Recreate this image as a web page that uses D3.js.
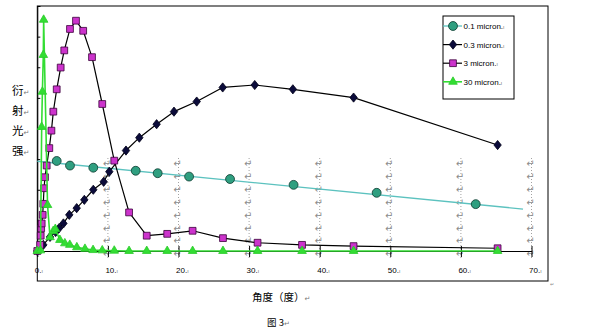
<!DOCTYPE html>
<html>
<head>
<meta charset="utf-8">
<script src="https://cdn.jsdelivr.net/npm/d3@7"></script>
<style>
  body { margin: 0; background: #fff; }
  svg { display: block; font-family: "Liberation Sans", Arial, sans-serif; }
</style>
</head>
<body>
<svg id="chart" width="590" height="329"></svg>
<script>
// values (angle in degrees, intensity in axis units)
const xTicks = [0, 10, 20, 30, 40, 50, 60, 70];
const yTicks = [0, 1, 2, 3, 4, 5, 6, 7, 8];
const gridCols = [10, 20, 30, 40, 50, 60, 70];

const series01 = [[2.75, 2.94], [4.63, 2.79], [7.93, 2.72], [13.94, 2.62], [17.05, 2.54],
  [21.5, 2.43], [27.3, 2.35], [36.3, 2.16], [48.07, 1.9], [62.1, 1.53]];
const trend01 = [[0, 2.93], [68.8, 1.37]];

const series03 = [[0, 0], [0.85, 0.2], [1.8, 0.46], [2.6, 0.62], [3.1, 0.75], [3.7, 0.9],
  [4.53, 1.18], [5.58, 1.4], [6.66, 1.67], [7.93, 2.0], [9.4, 2.26], [10.2, 2.59],
  [12.56, 3.28], [14.45, 3.7], [16.9, 4.14], [19.36, 4.55], [22.58, 4.88], [26.26, 5.34],
  [30.8, 5.42], [36.2, 5.28], [44.8, 5.01], [65.2, 3.46]];

const series3 = [[0, 0], [0.4, 0.2], [0.48, 0.5], [0.55, 0.74], [0.62, 0.9], [0.76, 1.18],
  [0.85, 1.54], [0.95, 2.05], [1.09, 2.41], [1.33, 2.79], [1.7, 3.36], [2.0, 3.93],
  [2.27, 4.55], [2.75, 5.28], [3.31, 5.99], [3.82, 6.55], [4.63, 7.25], [5.48, 7.52],
  [6.5, 7.19], [7.75, 6.33], [9.2, 4.8], [10.9, 2.95], [13.0, 1.26], [15.5, 0.5],
  [18.4, 0.56], [22.0, 0.66], [26.3, 0.42], [31.2, 0.27], [37.5, 0.2], [44.8, 0.16],
  [65.2, 0.09]];

const series30 = [[0, 0], [0.45, 0.02], [0.62, 4.05], [0.72, 5.2], [0.85, 6.4], [0.9, 7.55],
  [1.45, 1.5], [1.8, 0.45], [2.25, 0.65], [2.55, 0.72], [3.2, 0.36], [3.9, 0.25],
  [4.6, 0.2], [5.6, 0.12], [6.75, 0.07], [7.9, 0.03], [9.2, 0.02], [10.9, 0.01],
  [13.0, 0], [15.5, 0], [18.4, 0], [22.0, 0], [26.3, 0], [31.2, 0], [37.5, 0],
  [44.8, 0], [65.2, 0]];

const legendNames = ["0.1 micron.", "0.3 micron.", "3 micron.", "30 micron."];
const yLabelChars = ["衍", "射", "光", "强"];

const svg = d3.select("#chart");

const x = d3.scaleLinear().domain([0, 70]).range([37.3, 531.5]);
const y = d3.scaleLinear().domain([0, 8]).range([251, 6]);

// outer frame
svg.append("rect")
  .attr("x", 37.3).attr("y", 6)
  .attr("width", 548 - 37.3).attr("height", 281 - 6)
  .attr("fill", "none").attr("stroke", "#000").attr("stroke-width", 1);

// dotted columns with stray paragraph marks (from the word export)
const gridG = svg.append("g");
gridCols.forEach(c => {
  gridG.append("line")
    .attr("x1", x(c)).attr("x2", x(c))
    .attr("y1", 158).attr("y2", 258)
    .attr("stroke", "#8a8a8a").attr("stroke-width", 0.8)
    .attr("stroke-dasharray", "1,2");
  d3.range(8).forEach(i => {
    gridG.append("text")
      .attr("x", x(c) - 1).attr("y", 167 + i * 12.9)
      .attr("text-anchor", "middle")
      .attr("font-family", "DejaVu Sans")
      .attr("font-size", 10).attr("fill", "#8c8c8c")
      .text("\u21B5");
  });
});

// y axis (ticks inside)
svg.append("g")
  .attr("transform", `translate(${x(0)},0)`)
  .call(d3.axisRight(y).tickValues(yTicks).tickSize(3).tickFormat(""))
  .call(g => g.selectAll("line, path").attr("stroke", "#000"));

// x axis with crossing ticks
const xAxis = svg.append("g")
  .attr("transform", `translate(0,${y(0)})`)
  .call(d3.axisBottom(x).tickValues(xTicks).tickSize(6).tickSizeOuter(0).tickFormat(""))
  .call(g => g.select(".domain").attr("stroke", "#000"))
  .call(g => g.selectAll(".tick line").attr("stroke", "#000").attr("y1", -5).attr("y2", 6));

xAxis.selectAll(".tick").append("text")
  .attr("x", -3).attr("y", 22)
  .attr("text-anchor", "start")
  .attr("fill", "#000").attr("font-size", 8)
  .attr("font-family", "Liberation Sans, Arial, sans-serif")
  .text(d => d + ".")
  .append("tspan").attr("font-size", 5).attr("fill", "#666").text("ı");

const line = d3.line().x(d => x(d[0])).y(d => y(d[1]));

const diamondPath = "M0,-4.6L3.7,0L0,4.6L-3.7,0Z";
const sym = {
  circle: d3.symbol().type(d3.symbolCircle).size(62)(),
  square: d3.symbol().type(d3.symbolSquare).size(46)(),
  triangle: d3.symbol().type(d3.symbolTriangle).size(32)(),
  diamond: diamondPath
};

const styles = [
  { data: series01, lineData: trend01, line: "#5cc2bf", lw: 1.3, shape: "circle", fill: "#2f9f80", stroke: "#0c3a2e" },
  { data: series03, lineData: series03, line: "#000", lw: 1.2, shape: "diamond", fill: "#0b0b3a", stroke: "#000018" },
  { data: series3, lineData: series3, line: "#000", lw: 1.2, shape: "square", fill: "#cc33cc", stroke: "#3a003a" },
  { data: series30, lineData: series30, line: "#33dd33", lw: 1.6, shape: "triangle", fill: "#33dd33", stroke: "#2ccc2c" }
];

styles.forEach(s => {
  const g = svg.append("g");
  g.append("path")
    .datum(s.lineData)
    .attr("d", line)
    .attr("fill", "none")
    .attr("stroke", s.line)
    .attr("stroke-width", s.lw)
    .attr("stroke-linejoin", "round");
  g.selectAll("path.mk")
    .data(s.data)
    .join("path")
    .attr("class", "mk")
    .attr("d", sym[s.shape])
    .attr("transform", d => `translate(${x(d[0])},${y(d[1])})`)
    .attr("fill", s.fill)
    .attr("stroke", s.stroke)
    .attr("stroke-width", 0.8);
});

// legend
const lg = svg.append("g");
lg.append("rect")
  .attr("x", 443).attr("y", 16).attr("width", 71).attr("height", 83)
  .attr("fill", "#fff").attr("stroke", "#000").attr("stroke-width", 1);
styles.forEach((s, i) => {
  const ly = 26 + i * 18.6;
  lg.append("line")
    .attr("x1", 443).attr("x2", 462)
    .attr("y1", ly).attr("y2", ly)
    .attr("stroke", s.line).attr("stroke-width", s.lw);
  lg.append("path")
    .attr("d", sym[s.shape])
    .attr("transform", `translate(453,${ly})`)
    .attr("fill", s.fill).attr("stroke", s.stroke).attr("stroke-width", 0.8);
  lg.append("text")
    .attr("x", 463.5).attr("y", ly + 3)
    .attr("font-size", 8).attr("fill", "#000")
    .text(legendNames[i])
    .append("tspan").attr("font-size", 5).attr("fill", "#666").text("ı");
});

// y label, one character per line
yLabelChars.forEach((ch, i) => {
  const t = svg.append("text")
    .attr("x", 12).attr("y", 95 + i * 20)
    .attr("font-family", "Noto Sans CJK SC")
    .attr("font-size", 11.5).attr("fill", "#000")
    .text(ch);
  t.append("tspan").attr("font-family", "DejaVu Sans").attr("font-size", 7).attr("fill", "#777").text("\u21B5");
});

// x label and caption
svg.append("text")
  .attr("x", 252).attr("y", 301)
  .attr("font-family", "Noto Sans CJK SC")
  .attr("font-size", 10.5).attr("fill", "#000")
  .text("角度（度）")
  .append("tspan").attr("font-family", "DejaVu Sans").attr("font-size", 7).attr("fill", "#777").text("\u21B5");

svg.append("text")
  .attr("x", 267).attr("y", 325.5)
  .attr("font-family", "Noto Sans CJK SC")
  .attr("font-size", 9.5).attr("fill", "#000")
  .text("图 3")
  .append("tspan").attr("font-family", "DejaVu Sans").attr("font-size", 7).attr("fill", "#777").text("\u21B5");

svg.append("text")
  .attr("x", 550).attr("y", 286)
  .attr("font-family", "DejaVu Sans")
  .attr("font-size", 5).attr("fill", "#888")
  .text("\u21B5");
</script>
</body>
</html>
